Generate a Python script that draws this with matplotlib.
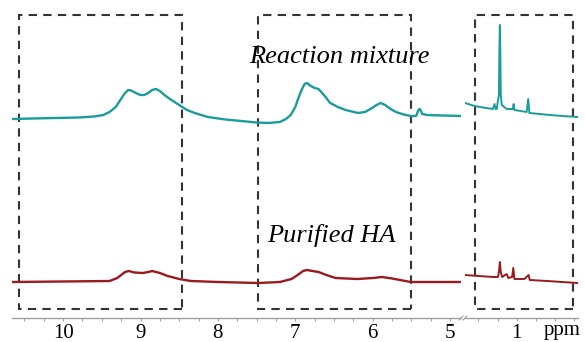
import matplotlib
matplotlib.use("Agg")
import matplotlib.pyplot as plt
import matplotlib.lines as mlines
from matplotlib.patches import Rectangle
from matplotlib.ticker import MultipleLocator, FixedLocator

plt.rcParams['font.family'] = ['Liberation Serif', 'DejaVu Serif']

# chemical shift (ppm) and intensity (a.u.)
teal_left_ppm = [10.66, 10.40, 10.10, 9.80, 9.60, 9.48, 9.40, 9.32, 9.26, 9.21,
                 9.16, 9.12, 9.06, 9.00, 8.95, 8.90, 8.85, 8.80, 8.75, 8.69,
                 8.62, 8.56, 8.48, 8.40, 8.30, 8.13, 7.90, 7.70, 7.50, 7.35,
                 7.20, 7.12, 7.06, 7.00, 6.97, 6.92, 6.88, 6.85, 6.80, 6.75,
                 6.70, 6.62, 6.55, 6.45, 6.35, 6.19, 6.10, 6.03, 5.95, 5.90,
                 5.84, 5.77, 5.70, 5.60, 5.51, 5.44, 5.41, 5.39, 5.36, 5.30,
                 5.10, 4.86]
teal_left_int = [6, 6.5, 7, 7.5, 8.5, 10, 13, 18, 25, 31,
                 35, 34.5, 32, 30, 30, 32, 35, 36, 34, 30,
                 26, 23, 19, 15, 12, 8, 5.5, 4, 2.5, 2,
                 3, 6, 10, 18, 25, 35, 41, 42, 39, 37,
                 36, 29, 22, 18, 15, 12, 13, 16, 20, 22,
                 20, 16, 13, 10.5, 9, 9, 15, 16, 11, 10,
                 9.5, 9]
teal_right_ppm = [1.675, 1.55, 1.40, 1.31, 1.29, 1.275, 1.26, 1.25, 1.232, 1.226,
                  1.22, 1.214, 1.208, 1.195, 1.13, 1.05, 1.04, 1.03, 0.95, 0.87,
                  0.85, 0.835, 0.70, 0.57, 0.40, 0.21]
teal_right_int = [22, 19, 17, 16, 21, 16, 16, 22, 30, 75,
                  100, 75, 30, 20, 16, 16, 21, 15, 14, 13,
                  26, 12, 11, 10, 9, 8]

red_left_ppm = [10.66, 10.0, 9.40, 9.30, 9.20, 9.15, 9.08, 8.97, 8.90, 8.85,
                8.75, 8.65, 8.50, 8.35, 8.00, 7.48, 7.20, 7.05, 6.97, 6.90,
                6.85, 6.78, 6.70, 6.60, 6.48, 6.20, 6.00, 5.88, 5.75, 5.51,
                5.20, 4.86]
red_left_int = [2, 2.5, 3, 6, 12, 13, 11.5, 11, 12, 13,
                11, 8, 5, 3, 2, 1, 2, 5, 9, 13,
                14, 13, 12, 9, 6, 5, 6, 7, 5.5, 2,
                2, 2]
red_right_ppm = [1.675, 1.50, 1.30, 1.245, 1.232, 1.22, 1.208, 1.19, 1.13, 1.11,
                 1.06, 1.045, 1.03, 0.90, 0.845, 0.83, 0.60, 0.21]
red_right_int = [9, 8, 7, 7, 12, 22, 12, 7, 10, 6,
                 7, 16, 5, 5, 9, 4, 3, 1]

left_ticks = [10, 9, 8, 7, 6, 5]
right_ticks = [1]
# highlighted regions (ppm)
boxes_left = [(10.57, 8.47), (7.48, 5.51)]
boxes_right = [(1.55, 0.26)]

teal = '#1a9c9b'
red = '#9a1a1e'
gray = '#a0a0a0'
dark = '#333333'
TEAL_OFFSET = 193
RED_OFFSET = 34

fig = plt.figure(figsize=(5.85, 3.42), dpi=100)
ax1 = fig.add_axes([12 / 585, 24 / 342, 449 / 585, 318 / 342])
ax2 = fig.add_axes([465 / 585, 24 / 342, 113 / 585, 318 / 342])

ax1.plot(teal_left_ppm, [v + TEAL_OFFSET for v in teal_left_int], color=teal, lw=1.7)
ax1.plot(red_left_ppm, [v + RED_OFFSET for v in red_left_int], color=red, lw=1.7)
ax2.plot(teal_right_ppm, [v + TEAL_OFFSET for v in teal_right_int], color=teal, lw=1.4)
ax2.plot(red_right_ppm, [v + RED_OFFSET for v in red_right_int], color=red, lw=1.4)

ax1.set_xlim(10.66, 4.86)
ax2.set_xlim(1.675, 0.20)

for ax in (ax1, ax2):
    ax.set_ylim(0, 318)
    ax.set_yticks([])
    for s in ('top', 'left', 'right'):
        ax.spines[s].set_visible(False)
    ax.spines['bottom'].set_color(gray)
    ax.spines['bottom'].set_linewidth(1.0)
    ax.xaxis.set_minor_locator(MultipleLocator(0.25))
    ax.tick_params(axis='x', which='both', direction='out', length=2, width=0.8,
                   color=gray, labelsize=15, pad=2.5)
    ax.patch.set_visible(False)

ax1.xaxis.set_major_locator(FixedLocator(left_ticks))
ax2.xaxis.set_major_locator(FixedLocator(right_ticks))

for a, b in boxes_left:
    ax1.add_patch(Rectangle((b, 9), a - b, 294, fill=False, ec=dark, lw=1.5,
                            ls=(0, (4, 3)), clip_on=False))
for a, b in boxes_right:
    ax2.add_patch(Rectangle((b, 9), a - b, 294, fill=False, ec=dark, lw=1.5,
                            ls=(0, (4, 3)), clip_on=False))

ax1.text(6.43, 255, 'Reaction mixture', style='italic', fontsize=19,
         ha='center', va='baseline')
ax1.text(6.53, 76, 'Purified HA', style='italic', fontsize=19,
         ha='center', va='baseline')
fig.text(562 / 585, 1 - 331 / 342, 'ppm', fontsize=15, ha='center', va='center')

# axis break marks
for dx in (0, 4):
    fig.add_artist(mlines.Line2D([(459 + dx) / 585, (463 + dx) / 585],
                                 [1 - 320 / 342, 1 - 316 / 342], color=gray, lw=0.8))

fig.savefig('out.png', dpi=100)
